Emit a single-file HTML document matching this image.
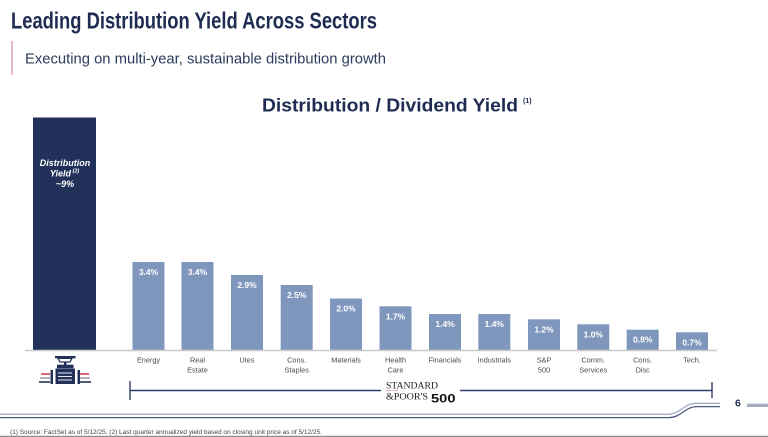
<!DOCTYPE html>
<html>
<head>
<meta charset="utf-8">
<style>
  html,body{margin:0;padding:0;background:#fff;}
  body{width:768px;height:437px;overflow:hidden;}
  svg{display:block;}
</style>
</head>
<body>
<svg width="768" height="437" viewBox="0 0 768 437" xmlns="http://www.w3.org/2000/svg" style="font-family:'Liberation Sans',sans-serif;">
  <rect width="768" height="437" fill="#fff"/>

  <!-- Title -->
  <text x="11" y="28.5" font-size="23.5" font-weight="bold" fill="#1f2c52" textLength="366" lengthAdjust="spacingAndGlyphs">Leading Distribution Yield Across Sectors</text>
  <line x1="12" y1="41" x2="12" y2="75" stroke="#d9868f" stroke-width="1.2"/>
  <text x="25" y="63.3" font-size="15" fill="#2b3a5c" textLength="361" lengthAdjust="spacingAndGlyphs">Executing on multi-year, sustainable distribution growth</text>

  <!-- Chart title -->
  <text x="262" y="111.7" font-size="18.5" font-weight="bold" fill="#1f2c52" textLength="256" lengthAdjust="spacingAndGlyphs">Distribution / Dividend Yield</text>
  <text x="523" y="103" font-size="7" font-weight="bold" fill="#1f2c52">(1)</text>

  <!-- Dark bar -->
  <rect x="33" y="117.5" width="63" height="232.5" fill="#22315a"/>
  <g font-size="9" font-weight="bold" font-style="italic" fill="#fff">
    <text x="65" y="166" text-anchor="middle">Distribution</text>
    <text x="71" y="176.5" text-anchor="end">Yield</text>
    <text x="72.5" y="172.5" font-size="5.5">(2)</text>
    <text x="65" y="187" text-anchor="middle">~9%</text>
  </g>

  <!-- Light bars -->
  <g fill="#7f97bd">
    <rect x="132.5" y="262" width="32" height="88"/>
    <rect x="181.5" y="262" width="32" height="88"/>
    <rect x="231" y="275" width="32" height="75"/>
    <rect x="280.7" y="285" width="32" height="65"/>
    <rect x="330" y="298.5" width="32" height="51.5"/>
    <rect x="379.5" y="306.3" width="32" height="43.7"/>
    <rect x="429" y="314" width="32" height="36"/>
    <rect x="478.3" y="314" width="32" height="36"/>
    <rect x="528" y="319.3" width="32" height="30.7"/>
    <rect x="577.3" y="324.3" width="32" height="25.7"/>
    <rect x="626.7" y="329.7" width="32" height="20.3"/>
    <rect x="676" y="332.3" width="32" height="17.7"/>
  </g>
  <g font-size="8.5" font-weight="bold" fill="#fff" text-anchor="middle">
    <text x="148.5" y="275">3.4%</text>
    <text x="197.5" y="275">3.4%</text>
    <text x="247" y="288">2.9%</text>
    <text x="296.7" y="298">2.5%</text>
    <text x="346" y="311.5">2.0%</text>
    <text x="395.5" y="319.3">1.7%</text>
    <text x="445" y="327">1.4%</text>
    <text x="494.3" y="327">1.4%</text>
    <text x="544" y="332.3">1.2%</text>
    <text x="593.3" y="337.3">1.0%</text>
    <text x="642.7" y="342.7">0.8%</text>
    <text x="692" y="345.3">0.7%</text>
  </g>

  <!-- Axis -->
  <line x1="25" y1="350.5" x2="717" y2="350.5" stroke="#c9c9c9" stroke-width="1.5"/>

  <!-- Category labels -->
  <g font-size="7.3" fill="#4a4a4a" text-anchor="middle">
    <text x="148.5" y="362.3">Energy</text>
    <text x="197.5" y="362.3">Real</text>
    <text x="197.5" y="372.3">Estate</text>
    <text x="247" y="362.3">Utes</text>
    <text x="296.7" y="362.3">Cons.</text>
    <text x="296.7" y="372.3">Staples</text>
    <text x="346" y="362.3">Materials</text>
    <text x="395.5" y="362.3">Health</text>
    <text x="395.5" y="372.3">Care</text>
    <text x="445" y="362.3">Financials</text>
    <text x="494.3" y="362.3">Industrials</text>
    <text x="544" y="362.3">S&amp;P</text>
    <text x="544" y="372.3">500</text>
    <text x="593.3" y="362.3">Comm.</text>
    <text x="593.3" y="372.3">Services</text>
    <text x="642.7" y="362.3">Cons.</text>
    <text x="642.7" y="372.3">Disc</text>
    <text x="692" y="362.3">Tech.</text>
  </g>

  <!-- Valve icon -->
  <g>
    <rect x="55" y="356" width="20.5" height="2.3" fill="#22315a"/>
    <path d="M58 358.3 L72 358.3 L70 362 L60 362 Z" fill="none" stroke="#22315a" stroke-width="1.3"/>
    <rect x="64" y="361.5" width="2.5" height="3.5" fill="#22315a"/>
    <rect x="57" y="364.7" width="16.5" height="3.5" fill="#22315a"/>
    <rect x="55.5" y="368.5" width="19.5" height="15.5" fill="#22315a"/>
    <line x1="58" y1="373" x2="72" y2="373" stroke="#fff" stroke-width="0.9"/>
    <line x1="58" y1="376.5" x2="72" y2="376.5" stroke="#fff" stroke-width="0.9"/>
    <line x1="58" y1="380" x2="72" y2="380" stroke="#fff" stroke-width="0.9"/>
    <rect x="50.5" y="370" width="2.5" height="14" fill="#22315a"/>
    <rect x="77.5" y="370" width="2.5" height="14" fill="#22315a"/>
    <line x1="41" y1="374" x2="50" y2="374" stroke="#d0454f" stroke-width="1.6"/>
    <line x1="40" y1="378" x2="50" y2="378" stroke="#9aa0ad" stroke-width="1.6"/>
    <line x1="39" y1="382" x2="50" y2="382" stroke="#22315a" stroke-width="1.6"/>
    <line x1="80" y1="374" x2="89" y2="374" stroke="#d0454f" stroke-width="1.6"/>
    <line x1="80" y1="378" x2="90" y2="378" stroke="#9aa0ad" stroke-width="1.6"/>
    <line x1="80" y1="382" x2="91" y2="382" stroke="#22315a" stroke-width="1.6"/>
  </g>

  <!-- S&P bracket -->
  <g stroke="#2e3d63" stroke-width="1.4">
    <line x1="130" y1="381" x2="130" y2="400"/>
    <line x1="130" y1="390.5" x2="381" y2="390.5"/>
    <line x1="460" y1="390.5" x2="712" y2="390.5"/>
    <line x1="712" y1="382" x2="712" y2="398"/>
  </g>
  <text x="386" y="388.5" style="font-family:'Liberation Serif',serif;" font-size="9" fill="#222" textLength="52" lengthAdjust="spacingAndGlyphs">STANDARD</text>
  <text x="386" y="399.3" style="font-family:'Liberation Serif',serif;" font-size="9" fill="#222" textLength="42" lengthAdjust="spacingAndGlyphs">&amp;POOR'S</text>
  <line x1="386" y1="390.7" x2="398" y2="390.7" stroke="#d9868f" stroke-width="0.6"/>
  <text x="431" y="402.3" font-size="11.5" font-weight="bold" fill="#111" textLength="24.5" lengthAdjust="spacingAndGlyphs">500</text>

  <!-- Pipeline double line -->
  <path d="M0 414.3 L668 414.3 C680 414.3 684 403.3 696 403.3 L720 403.3" fill="none" stroke="#a7b0c6" stroke-width="1.3"/>
  <path d="M0 417.6 L669 417.6 C681 417.6 685 406.6 697 406.6 L720 406.6" fill="none" stroke="#4d5a7e" stroke-width="1.3"/>
  <text x="735" y="406.5" font-size="10.5" font-weight="bold" fill="#1f2c52">6</text>
  <line x1="747" y1="404.3" x2="768" y2="404.3" stroke="#a7b0c6" stroke-width="1.3"/>
  <line x1="747" y1="406" x2="768" y2="406" stroke="#4d5a7e" stroke-width="1"/>

  <!-- Footnote -->
  <text x="10" y="434" font-size="6.3" fill="#444" textLength="312" lengthAdjust="spacingAndGlyphs">(1) Source: FactSet as of 5/12/25. (2) Last quarter annualized yield based on closing unit price as of 5/12/25.</text>

  <!-- Bottom edge -->
  <rect x="0" y="435.8" width="768" height="1.2" fill="#8a8a8a"/>
</svg>
</body>
</html>
